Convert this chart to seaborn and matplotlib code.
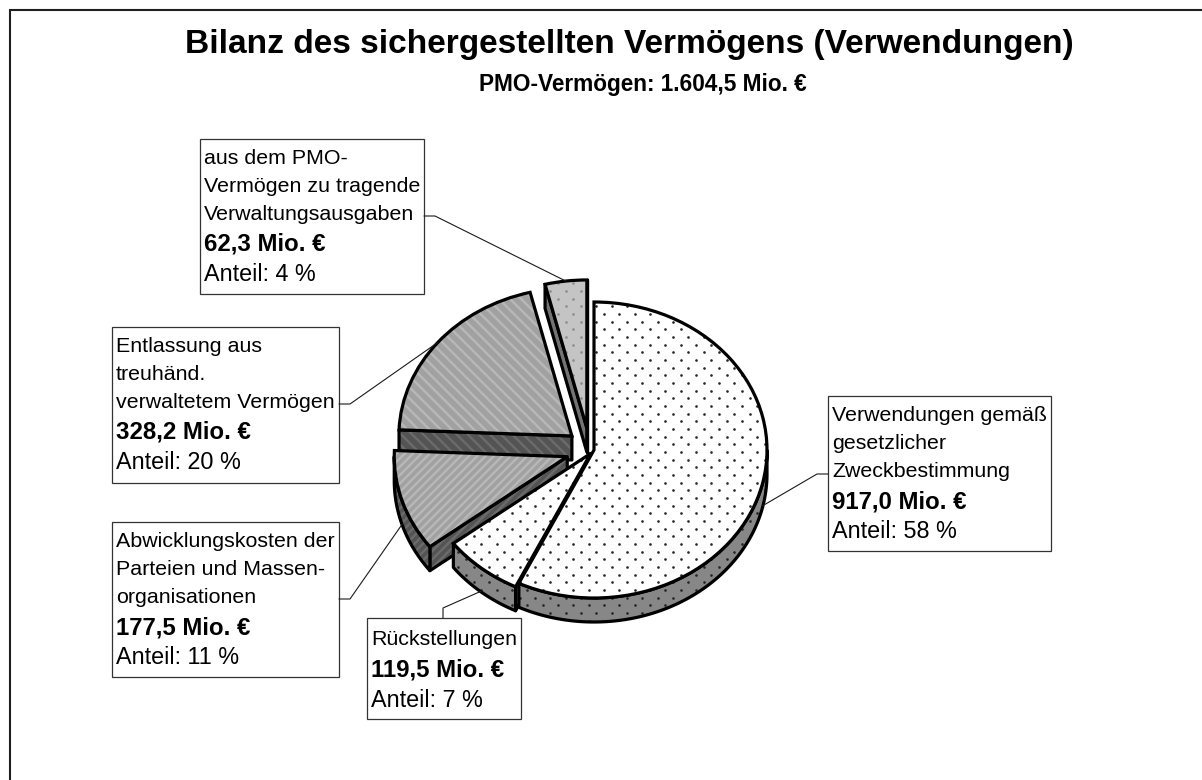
import numpy as np
import matplotlib
matplotlib.use("Agg")
import matplotlib.pyplot as plt
import seaborn as sns
from matplotlib.patches import Polygon, Rectangle

# data
categories = [
    ["Verwendungen gemäß", "gesetzlicher", "Zweckbestimmung"],
    ["Rückstellungen"],
    ["Abwicklungskosten der", "Parteien und Massen-", "organisationen"],
    ["Entlassung aus", "treuhänd.", "verwaltetem Vermögen"],
    ["aus dem PMO-", "Vermögen zu tragende", "Verwaltungsausgaben"],
]
values = [917.0, 119.5, 177.5, 328.2, 62.3]
value_labels = ["917,0 Mio. €", "119,5 Mio. €", "177,5 Mio. €", "328,2 Mio. €", "62,3 Mio. €"]
share_labels = ["Anteil: 58 %", "Anteil: 7 %", "Anteil: 11 %", "Anteil: 20 %", "Anteil: 4 %"]
title = "Bilanz des sichergestellten Vermögens (Verwendungen)"
subtitle = "PMO-Vermögen: 1.604,5 Mio. €"

# layout, all in pixels of the 1202x780 picture
W, H = 1202, 780
cx, cy, rx, ry, depth = 594, 450, 173, 148, 24
explode = [0, 0.03, 0.15, 0.15, 0.15]
nudge = [0, 0, -2, -2, -4]
boxes = [(828, 396, 1051, 551), (367, 618, 521, 719), (112, 522, 339, 677),
         (112, 327, 339, 483), (200, 139, 424, 294)]
leader_start = [[(828, 474), (817, 474)], [(443, 618), (443, 608)], [(339, 599), (350, 599)],
                [(339, 404), (350, 404)], [(424, 216), (435, 216)]]

# top face, stripes, side face, stripes, dot colour
styles = [
    ("white", None, "0.53", None, "0.15"),
    ("white", None, "0.53", None, "0.15"),
    ("0.63", ("////", "0.72"), "0.33", ("////", "0.42"), None),
    ("0.63", ("\\\\\\", "0.72"), "0.33", ("\\\\\\", "0.42"), None),
    ("0.77", None, "0.45", None, "0.55"),
]

sns.set_theme(style="white")
plt.rcParams["font.family"] = ["Liberation Sans", "DejaVu Sans"]
plt.rcParams["hatch.linewidth"] = 1.7

fig = plt.figure(figsize=(W / 100, H / 100), dpi=100, facecolor="white")
ax = fig.add_axes([0, 0, 1, 1])

wedges, _ = ax.pie(values, explode=explode, startangle=90, counterclock=False,
                   wedgeprops=dict(linewidth=0))
outlines, _ = ax.pie(values, explode=explode, startangle=90, counterclock=False,
                     wedgeprops=dict(fill=False, edgecolor="black", linewidth=2.3))
ax.set_aspect("auto")
ax.set_xlim(-cx / rx, (W - cx) / rx)
ax.set_ylim(-(H - cy) / ry, cy / ry)
ax.axis("off")

d = depth / ry
# dot lattice of the fill pattern
lat_x, lat_y = [], []
for row, py in enumerate(np.arange(314 - 7.67 * 10, 640, 7.67)):
    for px in np.arange(604 - 15.33 * 20 + (row % 2) * 7.67, 800, 15.33):
        lat_x.append((px - cx) / rx)
        lat_y.append((cy - py) / ry)


def add_dots(patch, color, z):
    dots = ax.scatter(lat_x, lat_y, s=3.6, color=color, linewidths=0, zorder=z)
    dots.set_clip_path(patch)


def add_wall(points, style, z):
    top, hatch, side, side_hatch, dot = style
    poly = Polygon(points, closed=True, facecolor=side, linewidth=0, zorder=z)
    if side_hatch:
        poly.set_hatch(side_hatch[0])
        poly.set_edgecolor(side_hatch[1])
    ax.add_patch(poly)
    if dot == "0.15":
        add_dots(poly, dot, z + 0.1)
    ax.add_patch(Polygon(points, closed=True, fill=False, edgecolor="black", linewidth=2.3,
                         joinstyle="round", zorder=z + 0.2))


anchors = []
for i, (w, o, style) in enumerate(zip(wedges, outlines, styles)):
    z = 10 * (len(values) - i)
    top, hatch, side, side_hatch, dot = style
    c = np.array(w.center) + [nudge[i] / rx, 0]
    w.set_center(c)
    o.set_center(c)
    t1, t2 = np.radians(w.theta1), np.radians(w.theta2)

    # flat side faces along the two cuts
    for t, normal in ((t1, t1 - np.pi / 2), (t2, t2 + np.pi / 2)):
        if np.sin(normal) < 0:
            p = c + [np.cos(t), np.sin(t)]
            add_wall([c, p, p - [0, d], c - [0, d]], style, z)
    # curved side face on the front half
    t = np.linspace(t1, t2, 300)
    t = t[np.sin(t) < 0]
    if len(t):
        arc = c + np.column_stack([np.cos(t), np.sin(t)])
        add_wall(np.vstack([arc, (arc - [0, d])[::-1]]), style, z + 1)

    w.set_facecolor(top)
    w.set_zorder(z + 2)
    if hatch:
        w.set_hatch(hatch[0])
        w.set_edgecolor(hatch[1])
    if dot:
        add_dots(w, dot, z + 3)
    o.set_zorder(z + 4)
    o.set_joinstyle("miter")

    mid = (t1 + t2) / 2
    edge = c + [np.cos(mid), np.sin(mid)]
    if np.sin(mid) < 0:
        edge = edge - [0, d * 0.95]
    px, py = ax.transData.transform(edge)
    anchors.append((px, H - py))

# overlay in picture pixels for frame, boxes, leaders and text
over = fig.add_axes([0, 0, 1, 1], zorder=5)
over.set_xlim(0, W)
over.set_ylim(H, 0)
over.axis("off")
over.patch.set_alpha(0)

over.plot([10, 10, W], [H, 10, 10], color="0.12", lw=1.5, solid_joinstyle="miter", clip_on=False)
over.text(629.5, 53, title, fontsize=24.1, fontweight="bold", ha="center", va="baseline", color="black")
over.text(643, 91, subtitle, fontsize=16.3, fontweight="bold", ha="center", va="baseline", color="black")

for i, (x0, y0, x1, y1) in enumerate(boxes):
    over.add_patch(Rectangle((x0, y0), x1 - x0, y1 - y0, facecolor="white", edgecolor="0.2", lw=0.9))
    pts = leader_start[i] + [anchors[i]]
    over.plot([p[0] for p in pts], [p[1] for p in pts], color="0.1", lw=0.8)
    lines = categories[i] + [value_labels[i], share_labels[i]]
    # short labels have wider line spacing
    offsets = [25, 53, 81, 112, 142] if len(lines) == 5 else [27, 58, 89]
    for line, off in zip(lines, offsets):
        size = 17.3 if "Mio." in line else 16.8 if "Anteil" in line else 15.4
        over.text(x0 + 4, y0 + off, line, fontsize=size, va="baseline", ha="left", color="black",
                  fontweight="bold" if "Mio." in line else "normal")

fig.savefig("out.png", dpi=100, facecolor="white")
